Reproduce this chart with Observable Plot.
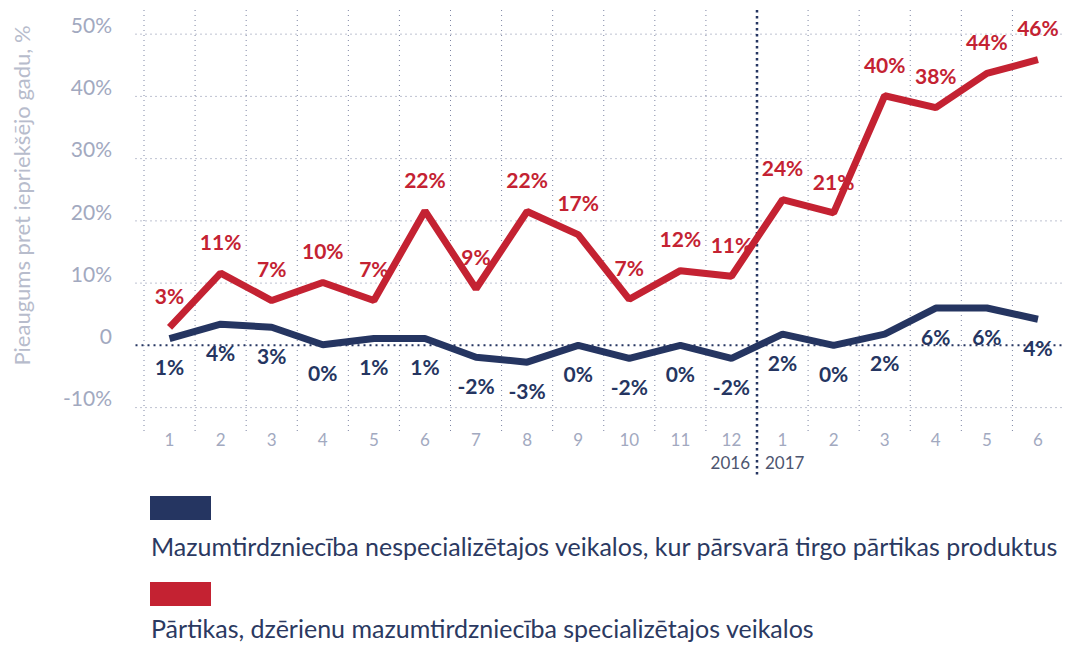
<!DOCTYPE html>
<html>
<head>
<meta charset="utf-8">
<script src="https://cdn.jsdelivr.net/npm/d3@7"></script>
<script src="https://cdn.jsdelivr.net/npm/@observablehq/plot@0.6"></script>
<style>
  body { margin: 0; background: #fff; font-family: Lato, "Open Sans", sans-serif; }
  #chart svg { display: block; }
  #legend { position: relative; width: 1067px; height: 168px; }
  .sw { position: absolute; left: 150px; width: 61px; height: 24px; }
  .lt { position: absolute; left: 151px; font-size: 25px; line-height: 28px; color: #2b3961; white-space: nowrap; }
</style>
</head>
<body>
<div id="chart"></div>
<div id="legend"></div>
<script>
// ---- data ----
const months = ["1","2","3","4","5","6","7","8","9","10","11","12","1","2","3","4","5","6"];
const years = ["2016", "2017"];
const seriesNames = [
  "Mazumtirdzniecība nespecializētajos veikalos, kur pārsvarā tirgo pārtikas produktus",
  "Pārtikas, dzērienu mazumtirdzniecība specializētajos veikalos"
];
const seriesColors = ["#253561", "#c42232"];
const nonSpecValues = [1.1, 3.4, 2.9, 0.1, 1.1, 1.1, -1.9, -2.7, 0.0, -2.1, 0.0, -2.1, 1.8, 0.0, 1.8, 6.0, 6.0, 4.2];
const nonSpecLabels = ["1%","4%","3%","0%","1%","1%","-2%","-3%","0%","-2%","0%","-2%","2%","0%","2%","6%","6%","4%"];
const foodValues = [2.9, 11.6, 7.2, 10.1, 7.2, 21.6, 9.1, 21.5, 17.8, 7.4, 12.0, 11.1, 23.4, 21.3, 40.1, 38.2, 43.7, 45.9];
const foodLabels = ["3%","11%","7%","10%","7%","22%","9%","22%","17%","7%","12%","11%","24%","21%","40%","38%","44%","46%"];
const yTicks = [-10, 0, 10, 20, 30, 40, 50];
const yTickLabels = ["-10%", "0", "10%", "20%", "30%", "40%", "50%"];
const yTitle = "Pieaugums pret iepriekšējo gadu, %";

// ---- table ----
const rows = months.map((m, i) => ({ i, month: m, nav: nonSpecValues[i], navLabel: nonSpecLabels[i], food: foodValues[i], foodLabel: foodLabels[i] }));
const yearBreak = 11.5;
const boundaries = d3.range(months.length).map(k => k - 0.5).filter(b => b !== yearBreak);

const gridColor = "#7d85a3";
const navy = seriesColors[0], red = seriesColors[1];

const chart = Plot.plot({
  width: 1067,
  height: 480,
  marginLeft: 143.5,
  marginRight: 4,
  marginTop: 10,
  marginBottom: 48,
  style: { fontFamily: "Lato, 'Open Sans', sans-serif", background: "#fff" },
  x: { type: "linear", domain: [-0.5, months.length - 0.5], axis: null },
  y: { domain: [-14, 53.8], axis: null },
  marks: [
    Plot.ruleY(yTicks.filter(t => t !== 0), { stroke: gridColor, strokeWidth: 1, strokeDasharray: "1 4", insetLeft: -8 }),
    Plot.ruleX(boundaries, { stroke: gridColor, strokeWidth: 1, strokeDasharray: "1 4" }),
    Plot.ruleY([0], { stroke: navy, strokeWidth: 2, strokeDasharray: "2 4", insetLeft: -8 }),
    Plot.ruleX([yearBreak], { stroke: navy, strokeWidth: 2.5, strokeDasharray: "2.5 3.5", insetBottom: -43 }),
    Plot.axisY(yTicks, {
      label: null, tickSize: 0, tickPadding: 32, dy: -8, fontSize: 21, fill: "#a2a9bf",
      tickFormat: d => yTickLabels[yTicks.indexOf(d)]
    }),
    Plot.axisX(d3.range(months.length), {
      label: null, tickSize: 0, tickPadding: 1, fontSize: 17, fill: "#a2a9bf",
      tickFormat: d => months[d]
    }),
    Plot.text([yTitle], { text: d => d, frameAnchor: "left", textAnchor: "middle", rotate: -90, dx: -121, dy: -26, fontSize: 22, fill: "#b7bccc" }),
    Plot.text([years[0]], { text: d => d, x: () => yearBreak, frameAnchor: "bottom", textAnchor: "end", dx: -7, dy: 36, fontSize: 17, fill: "#4d556f" }),
    Plot.text([years[1]], { text: d => d, x: () => yearBreak, frameAnchor: "bottom", textAnchor: "start", dx: 8, dy: 36, fontSize: 17, fill: "#4d556f" }),
    Plot.line(rows, { x: "i", y: "nav", stroke: navy, strokeWidth: 7, strokeLinejoin: "miter", strokeLinecap: "butt" }),
    Plot.line(rows, { x: "i", y: "food", stroke: red, strokeWidth: 7, strokeLinejoin: "miter", strokeLinecap: "butt" }),
    Plot.text(rows, { x: "i", y: "nav", text: "navLabel", dy: 30, fill: navy, fontWeight: "bold", fontSize: 21 }),
    Plot.text(rows, { x: "i", y: "food", text: "foodLabel", dy: -30, fill: red, fontWeight: "bold", fontSize: 21 })
  ]
});
document.getElementById("chart").append(chart);

// ---- legend ----
const legend = document.getElementById("legend");
const swTops = [16, 102], txtTops = [52, 134];
seriesNames.forEach((name, k) => {
  const sw = document.createElement("div");
  sw.className = "sw";
  sw.style.top = swTops[k] + "px";
  sw.style.background = seriesColors[k];
  legend.append(sw);
  const t = document.createElement("div");
  t.className = "lt";
  t.style.top = txtTops[k] + "px";
  t.textContent = name;
  legend.append(t);
});
</script>
</body>
</html>
